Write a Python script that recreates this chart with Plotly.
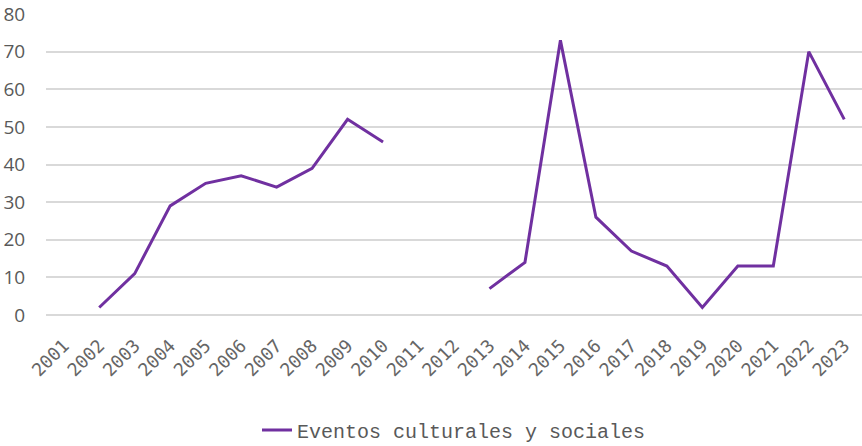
import plotly.graph_objects as go

years = [str(y) for y in range(2001, 2024)]
eventos = [None, 2, 11, 29, 35, 37, 34, 39, 52, 46, None, None,
           7, 14, 73, 26, 17, 13, 2, 13, 13, 70, 52]

fig = go.Figure()
fig.add_trace(go.Scatter(
    x=years, y=eventos, mode="lines",
    name="Eventos culturales y sociales",
    line=dict(color="#7030A0", width=3),
    connectgaps=False,
))

fig.update_layout(
    width=862, height=446,
    margin=dict(l=46, r=0, t=14, b=131),
    plot_bgcolor="white", paper_bgcolor="white",
    showlegend=True,
    legend=dict(orientation="h", x=0.5, xanchor="center",
                yref="container", y=0.036, yanchor="middle",
                font=dict(family="Liberation Mono", size=20, color="#595959")),
    font=dict(family="Open Sans", color="#595959"),
)
fig.update_xaxes(type="category", range=[-0.5, 22.5], tickangle=-45, showgrid=False,
                 showline=False, ticks="outside", ticklen=12, tickcolor="rgba(0,0,0,0)",
                 automargin=False,
                 tickfont=dict(family="DejaVu Sans Mono", size=18, color="#666666"))
fig.update_yaxes(range=[0, 80], dtick=10, showgrid=True, gridcolor="#D9D9D9",
                 gridwidth=2, zeroline=True, zerolinecolor="#D9D9D9", zerolinewidth=2,
                 ticks="outside", ticklen=16, tickcolor="rgba(0,0,0,0)", automargin=False,
                 tickfont=dict(size=19, color="#595959"))

# page body has a default 8px margin; drop it so the chart sits at (0, 0)
fig.write_html("out.html", config={"displayModeBar": False},
               post_script="document.body.style.margin='0';")
